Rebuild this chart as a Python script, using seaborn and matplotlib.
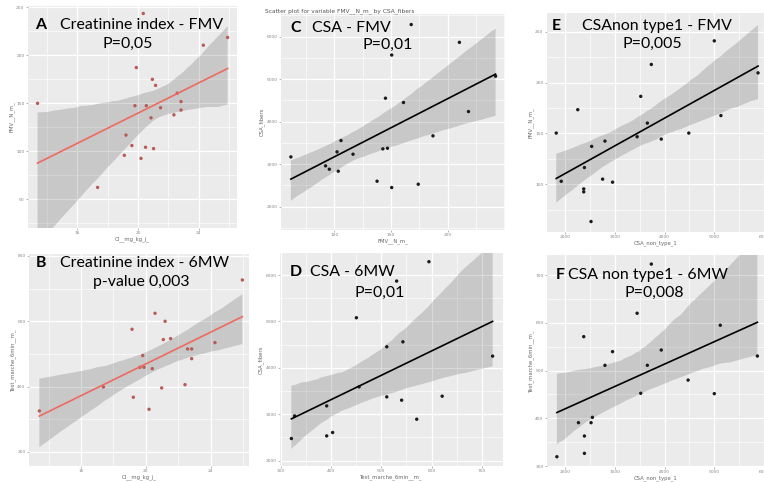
import numpy as np
import pandas as pd
import matplotlib.pyplot as plt
import seaborn as sns
from matplotlib.ticker import AutoMinorLocator

# A : Creatinine index - FMV
a_ci = [13.38, 17.34, 19.21, 19.10, 19.60, 19.80, 19.89, 20.20, 20.50, 20.55, 20.86,
        20.95, 21.03, 21.16, 21.49, 22.37, 22.59, 22.84, 22.84, 24.31, 25.91, 20.35]
a_fmv = [150.0, 62.3, 116.9, 95.8, 106.0, 147.5, 187.3, 92.6, 104.2, 147.5, 134.9,
         175.0, 102.8, 168.7, 145.4, 138.0, 160.6, 151.8, 143.0, 210.6, 218.7, 243.7]

# B : Creatinine index - 6MW
b_ci = [13.43, 17.38, 19.15, 19.23, 19.81, 19.64, 19.89, 20.20, 20.40, 20.57,
        20.98, 21.08, 21.19, 21.53, 22.42, 22.58, 22.83, 22.83, 24.27, 25.96]
b_6mw = [325.6, 399.0, 575.6, 367.5, 495.0, 459.3, 459.3, 330.6, 455.0, 624.6,
         396.0, 544.0, 600.0, 547.0, 406.0, 515.3, 515.3, 485.6, 534.7, 726.5]

# C : CSA - FMV
c_fmv = [61.7, 92.3, 95.6, 102.4, 103.5, 105.9, 116.5, 137.7, 142.8, 145.1,
         146.9, 150.6, 150.6, 161.0, 167.8, 174.0, 187.0, 210.3, 218.3, 242.2]
c_csa = [3172, 2961, 2882, 3290, 2835, 3557, 3235, 2600, 3361, 4553,
         3376, 2451, 5569, 4451, 6286, 2529, 3667, 5867, 4239, 5071]

# D : CSA - 6MW
d_6mw = [321.6, 328.0, 391.7, 391.7, 403.5, 450.7, 456.0, 511.0,
         511.0, 530.6, 540.5, 543.0, 570.5, 594.7, 621.0, 721.2]
d_csa = [2475, 2963, 3179, 2532, 2605, 5079, 3589, 3373,
         4453, 5870, 3302, 4560, 2892, 6287, 3388, 4252]

# E : CSA non type1 - FMV
e_csa = [1820, 1920, 2253, 2373, 2373, 2387, 2520, 2533, 2753, 2800,
         2953, 3447, 3520, 3653, 3733, 3933, 4487, 5000, 5133, 5880]
e_fmv = [150.3, 102.9, 173.3, 95.4, 92.5, 116.4, 63.3, 137.2, 105.0, 142.4,
         102.0, 146.7, 186.4, 160.1, 217.8, 144.4, 150.3, 241.0, 167.5, 209.5]

# F : CSA non type1 - 6MW
f_csa = [1833, 2267, 2373, 2387, 2387, 2520, 2547, 2800, 2953,
         3447, 3520, 3653, 3733, 3933, 4473, 5000, 5120, 5867]
f_6mw = [319.5, 390.8, 571.0, 362.9, 326.6, 390.8, 402.0, 511.0, 539.6,
         620.0, 452.4, 511.0, 723.0, 543.0, 480.0, 451.6, 594.9, 530.4]

W, H = 764, 482
fig = plt.figure(figsize=(W / 100, H / 100), dpi=100)
fig.patch.set_facecolor('white')
big = ['Lato', 'DejaVu Sans']


def px_axes(l, t, r, b):
    return fig.add_axes([l / W, 1 - b / H, (r - l) / W, (b - t) / H])


def panel(rect, x, y, xlim, ylim, xticks, yticks, xlab, ylab, line_c, dot_c):
    ax = px_axes(*rect)
    ax.set_facecolor('#EBEBEB')
    sns.scatterplot(x=x, y=y, ax=ax, color=dot_c, s=6, edgecolor='none', zorder=3)
    sns.regplot(x=x, y=y, ax=ax, scatter=False, color='black', ci=95, seed=3,
                line_kws={'lw': 1.2, 'zorder': 4})
    ax.lines[-1].set_color(line_c)
    ax.set_xlim(xlim)
    ax.set_ylim(ylim)
    ax.set_xticks(xticks)
    ax.set_yticks(yticks)
    ax.xaxis.set_minor_locator(AutoMinorLocator(2))
    ax.yaxis.set_minor_locator(AutoMinorLocator(2))
    ax.grid(True, which='major', color='white', lw=0.9)
    ax.grid(True, which='minor', color='white', lw=0.45)
    ax.set_axisbelow(True)
    for s in ax.spines.values():
        s.set_visible(False)
    ax.tick_params(which='major', length=1.5, width=0.5, color='#999999',
                   labelsize=3.2, labelcolor='#888888', pad=1)
    ax.tick_params(which='minor', length=0)
    ax.set_xlabel(xlab, fontsize=3.8, color='#666666', labelpad=0.5)
    ax.set_ylabel(ylab, fontsize=3.8, color='#666666', labelpad=1)
    return ax


red = '#ee6a5f'
panel((28, 6, 237, 228), a_ci, a_fmv, (12.75, 26.53), (20, 251.5),
      [16, 20, 24], [50, 100, 150, 200, 250], 'CI__mg_kg_j_', 'FMV__N_m_', red, '#b85a55')
panel((29, 254, 249, 466), b_ci, b_6mw, (12.79, 26.37), (157, 806),
      [16, 20, 24], [200, 400, 600, 800], 'CI__mg_kg_j_', 'Test_marche_6min__m_', red, '#b85a55')
panel((281, 14, 505, 230), c_fmv, c_csa, (53, 250.5), (1452, 6534),
      [100, 150, 200], [2000, 3000, 4000, 5000, 6000], 'FMV__N_m_', 'CSA_fibers',
      'black', '#1a1a1a')
panel((280, 253, 503, 466), d_6mw, d_csa, (299, 741.8), (1883, 6475),
      [300, 400, 500, 600, 700], [2000, 3000, 4000, 5000, 6000],
      'Test_marche_6min__m_', 'CSA_fibers', 'black', '#1a1a1a')
panel((547, 13, 764, 232), e_csa, e_fmv, (1634, 5980), (53, 268.4),
      [2000, 3000, 4000, 5000, 6000], [100, 150, 200, 250],
      'CSA_non_type_1', 'FMV__N_m_', 'black', '#1a1a1a')
panel((547, 255, 764, 467), f_csa, f_6mw, (1634, 5980), (298, 742),
      [2000, 3000, 4000, 5000, 6000], [300, 400, 500, 600, 700],
      'CSA_non_type_1', 'Test_marche_6min__m_', 'black', '#1a1a1a')

fig.text(265 / W, 1 - 11 / H, 'Scatter plot for variable FMV__N_m_ by CSA_fibers',
         fontsize=4.2, color='#555555', ha='left', va='center')


def label(x, y, s, bold=False, size=11.4):
    fig.text(x / W, 1 - y / H, s, family=big, fontsize=size,
             fontweight='bold' if bold else 'normal', ha='left', va='center', color='black')


# overlay titles
label(35, 25, 'A', True)
label(60, 25, 'Creatinine index - FMV')
label(102, 44, 'P=0,05')
label(36, 263, 'B', True)
label(60, 263, 'Creatinine index - 6MW')
label(93, 282, 'p-value 0,003')
label(290, 28, 'C', True)
label(312, 28, 'CSA - FMV')
label(363, 45, 'P=0,01')
label(290, 272, 'D', True)
label(310, 272, 'CSA - 6MW')
label(355, 293, 'P=0,01')
label(552, 26, 'E', True)
label(582, 26, 'CSAnon type1 - FMV')
label(622, 44, 'P=0,005')
label(556, 275, 'F', True)
label(568, 275, 'CSA non type1 - 6MW')
label(625, 293, 'P=0,008')

fig.savefig('out.png', dpi=100)
